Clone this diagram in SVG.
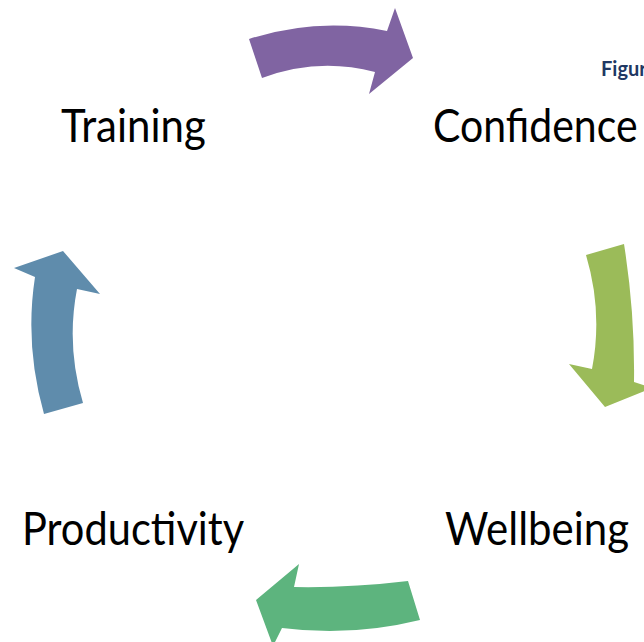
<svg xmlns="http://www.w3.org/2000/svg" width="644" height="642" viewBox="0 0 644 642">
<style>
.lbl{font-family:Lato,"Liberation Sans",Arial,sans-serif;font-size:42px;fill:#000}
.fig{font-family:Lato,"Liberation Sans",Arial,sans-serif;font-size:20px;font-weight:bold;fill:#1F3864}
</style>
<rect width="644" height="642" fill="#fff"/>
<g id="connectors">
<path id="arrow-purple" d="M249,39 Q318,17 387,31 L395,8 L413,58 L369,94 L375,72 Q318,57 262,78 Z" fill="#8064A2"/>
<path id="arrow-green" d="M586,255 L624,244 Q635,313 634,382 L652,388 L605,407 L569,364 L592,369 Q603,312 586,255 Z" fill="#9BBB59"/>
<path id="arrow-teal" d="M408,581 Q350,588 294,587 L299,564 L256,600 L273,646 L282,628 Q351,637 420,620 Z" fill="#5DB47E"/>
<path id="arrow-blue" d="M44,414 L83,403 Q66,346 77,289 L100,294 L63,251 L14,268 L35,277 Q24.5,345 44,414 Z" fill="#5F8CAC"/>
</g>
<g id="node-training" transform="translate(61,142) scale(1,1.12)"><text class="lbl" x="0" y="0">Training</text></g>
<g id="node-confidence" transform="translate(433,142) scale(1,1.12)"><text class="lbl" x="0" y="0" style="font-size:41px">Confidence</text></g>
<g id="node-wellbeing" transform="translate(445,545) scale(1,1.12)"><text class="lbl" x="0" y="0">Wellbeing</text></g>
<g id="node-productivity" transform="translate(22,545) scale(1,1.12)"><text class="lbl" x="0" y="0" style="font-size:41.6px">Productivity</text></g>
<g id="caption" transform="translate(601,76) scale(1,1.05)"><text class="fig" x="0" y="0">Figur</text></g>
</svg>
